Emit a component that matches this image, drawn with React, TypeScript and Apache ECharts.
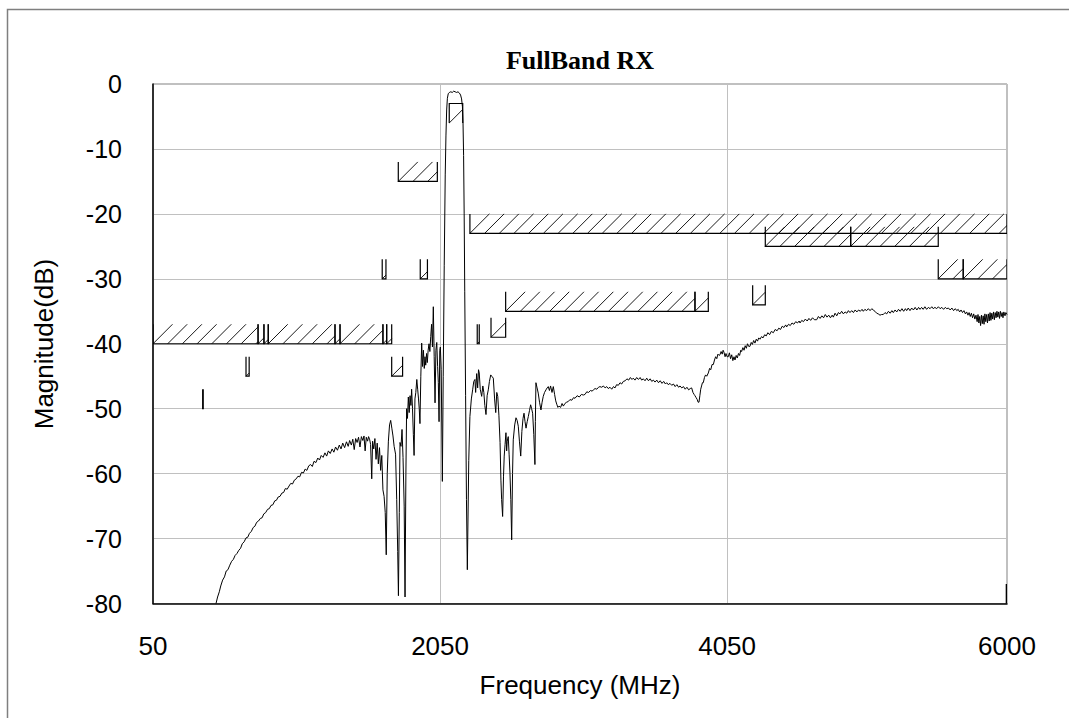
import React, { useEffect, useRef } from "react";
import * as echarts from "echarts";

const chartTitle = "FullBand RX";
const xAxisName = "Frequency (MHz)";
const yAxisName = "Magnitude(dB)";
const freqMin = 50;
const freqMax = 6000;
const xTickStep = 2000;
const yMin = -80;
const yMax = 0;
const yTickStep = 10;

// measured response [MHz, dB]
const lowBandResponse: [number, number][] = [
  [489, -80.0], [500, -79.0], [512, -78.2], [522, -77.3], [535, -76.4], [548, -75.9], [560, -75.0], [572, -74.8],
  [585, -74.1], [598, -73.5], [610, -73.2], [622, -72.6], [635, -72.3], [648, -71.8], [660, -71.5], [672, -70.8],
  [685, -70.5], [698, -69.9], [710, -69.8], [722, -69.2], [735, -68.9], [748, -68.3], [760, -68.1], [772, -67.5],
  [785, -67.3], [798, -66.9], [810, -66.8], [822, -66.2], [835, -66.0], [848, -65.5], [860, -65.4], [872, -64.9],
  [885, -64.8], [898, -64.2], [910, -64.1], [922, -63.6], [935, -63.5], [948, -63.0], [960, -62.9], [972, -62.3],
  [985, -62.4], [998, -61.9], [1010, -61.5], [1022, -61.6], [1035, -61.0], [1048, -60.8], [1060, -60.4], [1072, -60.5],
  [1085, -59.8], [1098, -59.9], [1110, -59.3], [1122, -59.5], [1135, -58.8], [1148, -58.6], [1160, -58.9], [1172, -58.1],
  [1185, -58.3], [1198, -57.6], [1210, -57.9], [1222, -57.2], [1235, -57.5], [1248, -56.8], [1260, -57.3], [1272, -56.5],
  [1285, -56.9], [1298, -56.2], [1310, -56.7], [1322, -55.9], [1335, -56.4], [1348, -55.6], [1360, -56.2], [1372, -55.3],
  [1385, -56.0], [1398, -55.1], [1410, -55.8], [1420, -54.9], [1432, -55.6], [1442, -54.7], [1452, -56.3], [1462, -54.6],
  [1472, -55.2], [1482, -54.4], [1492, -55.9], [1502, -54.3], [1512, -54.9], [1520, -54.2], [1528, -56.5], [1536, -54.4],
  [1545, -55.0], [1552, -54.3], [1560, -54.8], [1566, -55.5], [1574, -60.8], [1580, -55.0], [1588, -56.2], [1596, -54.6],
  [1604, -57.8], [1612, -55.3], [1620, -58.5], [1628, -56.0], [1636, -59.5], [1644, -57.2], [1652, -62.5], [1660, -63.5],
  [1668, -66.0], [1675, -72.5], [1682, -60.0], [1690, -55.0], [1698, -52.5], [1706, -51.8], [1714, -53.0], [1722, -54.2],
  [1730, -55.8], [1740, -57.0], [1748, -64.0], [1755, -72.0], [1760, -78.8], [1766, -66.0], [1771, -55.2], [1778, -55.8],
  [1785, -53.2], [1792, -57.5], [1800, -65.0], [1806, -79.0], [1812, -60.0], [1817, -50.0], [1823, -51.5], [1829, -48.2],
  [1835, -50.6], [1841, -48.0], [1847, -49.5], [1852, -47.0], [1858, -50.0], [1864, -54.0], [1869, -57.2], [1875, -48.5],
  [1881, -47.5], [1888, -45.5], [1894, -47.0], [1900, -48.5], [1905, -50.0], [1910, -52.3], [1916, -45.0], [1922, -39.9],
  [1928, -43.5], [1934, -41.0], [1940, -43.8], [1945, -42.0], [1950, -43.3], [1956, -41.5], [1961, -42.9], [1967, -41.0],
  [1973, -40.0], [1979, -41.2], [1985, -38.9], [1991, -37.0], [1997, -40.5], [2003, -34.3], [2009, -42.0], [2015, -49.1],
  [2021, -41.0], [2027, -39.8], [2033, -43.5], [2038, -46.0], [2043, -52.0], [2048, -41.0], [2052, -40.5], [2058, -44.0],
  [2066, -61.2],
];

const passbandResponse: [number, number][] = [
  [2072, -45.0], [2079, -28.0], [2086, -14.0], [2091, -8.0], [2096, -4.0], [2101, -2.2], [2107, -1.5], [2115, -1.3],
  [2125, -1.2], [2135, -1.3], [2145, -1.1], [2155, -1.2], [2165, -1.3], [2175, -1.2], [2185, -1.4], [2193, -1.7],
  [2200, -2.3], [2206, -3.5], [2210, -6.0], [2214, -11.0], [2218, -20.0], [2222, -32.0], [2228, -48.0], [2234, -64.0],
  [2240, -74.8],
];

const highBandResponse: [number, number][] = [
  [2250, -58.0], [2258, -51.2], [2268, -48.5], [2277, -47.1], [2285, -45.8], [2293, -45.5], [2298, -47.5], [2305, -44.6],
  [2312, -46.8], [2318, -44.0], [2323, -44.5], [2330, -47.0], [2340, -48.1], [2348, -46.5], [2355, -47.5], [2362, -49.5],
  [2370, -50.9], [2378, -48.0], [2386, -47.1], [2394, -45.8], [2403, -44.8], [2410, -45.0], [2421, -45.3], [2430, -48.5],
  [2438, -50.6], [2445, -47.5], [2452, -48.1], [2460, -51.0], [2468, -55.2], [2474, -61.0], [2479, -64.0], [2486, -66.6],
  [2492, -60.5], [2497, -57.3], [2503, -55.5], [2509, -53.7], [2514, -56.5], [2518, -55.0], [2525, -54.3], [2531, -57.0],
  [2537, -59.9], [2543, -64.0], [2549, -70.2], [2555, -60.0], [2560, -54.8], [2570, -52.5], [2579, -51.4], [2587, -51.8],
  [2595, -52.7], [2603, -55.0], [2612, -57.3], [2620, -53.5], [2628, -51.5], [2635, -50.7], [2642, -52.0], [2649, -53.0],
  [2657, -52.0], [2665, -51.2], [2673, -50.3], [2681, -49.4], [2688, -50.0], [2695, -50.7], [2703, -54.0], [2711, -58.6],
  [2714, -52.0], [2718, -46.0], [2726, -46.8], [2734, -47.6], [2743, -49.0], [2753, -50.2], [2761, -49.0], [2769, -48.1],
  [2778, -47.5], [2788, -47.1], [2796, -46.8], [2804, -46.6], [2812, -47.2], [2820, -46.5], [2830, -47.5], [2839, -46.6],
  [2848, -47.8], [2856, -48.8], [2863, -49.3], [2871, -49.8], [2879, -49.6], [2890, -49.8], [2900, -49.2], [2909, -49.6],
  [2920, -49.2], [2932, -49.0], [2943, -48.9], [2955, -48.6], [2968, -48.7], [2980, -48.3], [2990, -48.4], [3005, -48.0],
  [3020, -48.2], [3035, -47.8], [3048, -47.9], [3060, -47.8], [3072, -47.4], [3085, -47.5], [3098, -47.2], [3110, -47.3],
  [3118, -47.1], [3130, -46.9], [3142, -47.0], [3154, -46.7], [3164, -46.6], [3176, -46.7], [3188, -46.5], [3200, -46.8],
  [3211, -46.6], [3222, -46.9], [3234, -46.7], [3246, -47.0], [3258, -46.6], [3269, -46.8], [3280, -46.3], [3292, -46.4],
  [3304, -46.0], [3315, -46.2], [3327, -45.8], [3340, -45.7], [3352, -45.4], [3364, -45.6], [3376, -45.2], [3387, -45.5],
  [3396, -45.3], [3408, -45.6], [3420, -45.2], [3432, -45.5], [3444, -45.2], [3455, -45.6], [3466, -45.4], [3478, -45.7],
  [3490, -45.3], [3502, -45.7], [3514, -45.4], [3525, -45.8], [3536, -45.6], [3548, -45.9], [3560, -45.6], [3572, -46.0],
  [3584, -45.7], [3596, -46.1], [3608, -45.8], [3620, -46.2], [3629, -46.0], [3640, -46.3], [3652, -46.1], [3664, -46.4],
  [3676, -46.2], [3688, -46.6], [3700, -46.3], [3712, -46.7], [3722, -46.5], [3734, -46.8], [3746, -46.6], [3758, -47.0],
  [3770, -46.7], [3782, -47.1], [3793, -46.9], [3803, -46.8], [3812, -47.5], [3820, -47.8], [3826, -48.0], [3834, -48.3],
  [3842, -48.6], [3848, -49.0], [3854, -49.0], [3860, -48.0], [3866, -47.0], [3872, -46.5], [3878, -46.0], [3884, -46.0],
  [3892, -45.2], [3900, -44.8], [3908, -45.0], [3919, -44.5], [3928, -43.8], [3936, -44.0], [3945, -43.2], [3954, -43.2],
  [3962, -42.5], [3970, -42.0], [3978, -42.3], [3986, -41.6], [3994, -41.8], [4000, -41.7], [4008, -41.2], [4016, -41.6],
  [4022, -41.0], [4028, -41.3], [4036, -42.0], [4042, -41.5], [4050, -42.0], [4058, -42.0], [4066, -41.4], [4074, -42.3],
  [4082, -41.7], [4090, -42.6], [4098, -42.0], [4105, -42.5], [4113, -41.8], [4121, -42.2], [4129, -41.5], [4137, -41.8],
  [4145, -41.0], [4151, -41.2], [4160, -40.6], [4168, -41.0], [4176, -40.3], [4184, -40.7], [4192, -40.0], [4200, -40.4],
  [4209, -40.4], [4218, -39.8], [4226, -40.1], [4235, -39.5], [4244, -39.9], [4253, -39.3], [4262, -39.6], [4270, -39.1],
  [4279, -39.3], [4290, -38.9], [4300, -39.1], [4312, -38.6], [4322, -38.8], [4334, -38.3], [4346, -38.6], [4358, -38.1],
  [4372, -38.3], [4385, -37.8], [4398, -38.0], [4410, -37.6], [4422, -37.8], [4434, -37.3], [4446, -37.5], [4458, -37.1],
  [4465, -37.4], [4478, -37.0], [4490, -37.2], [4502, -36.8], [4515, -37.0], [4528, -36.6], [4540, -36.8], [4552, -36.5],
  [4558, -36.8], [4570, -36.4], [4582, -36.6], [4595, -36.2], [4608, -36.5], [4620, -36.1], [4632, -36.4], [4645, -36.0],
  [4658, -36.3], [4674, -36.3], [4686, -35.8], [4698, -36.1], [4710, -35.7], [4722, -36.0], [4734, -35.5], [4746, -35.9],
  [4758, -35.6], [4770, -36.0], [4782, -35.6], [4790, -35.9], [4802, -35.3], [4814, -35.7], [4825, -35.2], [4836, -35.4],
  [4848, -35.0], [4860, -35.4], [4872, -35.1], [4884, -35.3], [4895, -34.9], [4906, -35.2], [4918, -34.9], [4930, -35.2],
  [4942, -34.8], [4954, -35.1], [4966, -34.8], [4978, -35.0], [4990, -34.7], [4999, -35.0], [5010, -34.7], [5022, -34.9],
  [5034, -34.6], [5046, -34.9], [5058, -34.6], [5068, -34.8], [5080, -35.0], [5092, -35.3], [5103, -35.4], [5115, -35.6],
  [5126, -35.5], [5138, -35.5], [5150, -35.2], [5162, -35.4], [5174, -35.0], [5186, -35.3], [5198, -34.9], [5208, -35.2],
  [5220, -34.8], [5232, -35.1], [5244, -34.7], [5256, -35.0], [5268, -34.6], [5280, -35.0], [5292, -34.6], [5301, -34.9],
  [5312, -34.5], [5324, -34.9], [5336, -34.5], [5348, -34.8], [5360, -34.4], [5372, -34.8], [5384, -34.4], [5394, -34.7],
  [5405, -34.4], [5416, -34.7], [5428, -34.3], [5440, -34.7], [5452, -34.4], [5464, -34.6], [5476, -34.3], [5486, -34.6],
  [5498, -34.4], [5510, -34.6], [5522, -34.3], [5534, -34.6], [5546, -34.4], [5558, -34.7], [5570, -34.4], [5580, -34.6],
  [5592, -34.5], [5604, -34.8], [5616, -34.5], [5628, -34.9], [5640, -34.6], [5650, -34.9], [5660, -34.7], [5670, -35.1],
  [5680, -34.8], [5690, -35.2], [5700, -34.9], [5710, -35.4], [5719, -35.1], [5728, -35.6], [5736, -35.2], [5744, -35.8],
  [5752, -35.3], [5760, -36.0], [5768, -35.4], [5776, -36.2], [5784, -35.6], [5792, -36.6], [5798, -35.5], [5804, -36.8],
  [5810, -35.8], [5816, -37.2], [5822, -35.6], [5828, -36.9], [5834, -35.7], [5840, -37.0], [5846, -35.4], [5852, -36.6],
  [5858, -35.5], [5864, -36.8], [5870, -35.4], [5876, -36.5], [5882, -35.2], [5888, -36.4], [5894, -35.3], [5900, -36.2],
  [5906, -35.1], [5912, -36.3], [5918, -35.2], [5924, -36.0], [5930, -35.0], [5936, -35.9], [5942, -35.1], [5948, -36.1],
  [5954, -35.0], [5960, -35.8], [5966, -35.2], [5972, -36.0], [5978, -35.1], [5986, -35.7], [5992, -35.2], [6000, -35.5],
];

// spec masks: [startMHz, stopMHz, limitDb, side]  side 1 = upper limit (hatched above), -1 = lower limit (hatched below)
const maskSegments: [number, number, number, number][] = [
  [396, 400, -50, 1],
  [698, 720, -45, 1],
  [50, 782, -40, 1],
  [782, 823, -40, 1],
  [823, 853, -40, 1],
  [853, 1318, -40, 1],
  [1318, 1353, -40, 1],
  [1353, 1652, -40, 1],
  [1652, 1678, -40, 1],
  [1678, 1713, -40, 1],
  [1713, 1789, -45, 1],
  [1647, 1673, -30, 1],
  [1912, 1962, -30, 1],
  [1759, 2031, -15, 1],
  [2114, 2208, -3, -1],
  [2258, 6000, -23, 1],
  [2309, 2323, -40, 1],
  [2405, 2507, -39, 1],
  [2507, 3826, -35, 1],
  [3826, 3919, -35, 1],
  [4228, 4316, -34, 1],
  [4316, 4911, -25, 1],
  [4911, 5521, -25, 1],
  [5521, 5695, -30, 1],
  [5695, 6000, -30, 1],
  [5995, 6000, -80, 1],
];
const maskHatchDb = 3;

const toAxis = (f: number) => f - freqMin;

export default function App() {
  const ref = useRef<HTMLDivElement>(null);
  useEffect(() => {
    if (!ref.current) return;
    const chart = echarts.init(ref.current, null, { renderer: "svg" });
    const curve = [...lowBandResponse, ...passbandResponse, ...highBandResponse].map(
      ([f, v]) => [toAxis(f), v]
    );
    const masks = maskSegments.map(([a, b, l, s]) => [toAxis(a), toAxis(b), l, s]);
    const hatchGap = 14.7;
    const option: any = {
      animation: false,
      backgroundColor: "#ffffff",
      grid: {
        left: 153,
        right: 62,
        top: 84,
        bottom: 114.5,
        show: true,
        borderColor: "#808080",
        borderWidth: 1,
        backgroundColor: "transparent",
      },
      xAxis: {
        type: "value",
        min: 0,
        max: freqMax - freqMin,
        interval: xTickStep,
        axisLine: { show: true, onZero: false, lineStyle: { color: "#000", width: 1.5 } },
        axisTick: { show: false },
        splitLine: { show: true, lineStyle: { color: "#c0c0c0", width: 1 } },
        axisLabel: {
          formatter: (v: number) => String(Math.round(v + freqMin)),
          fontFamily: "Liberation Sans, Arial, sans-serif",
          fontSize: 26,
          color: "#000",
          margin: 29,
        },
      },
      yAxis: {
        type: "value",
        min: yMin,
        max: yMax,
        interval: yTickStep,
        axisLine: { show: true, onZero: false, lineStyle: { color: "#000", width: 1.5 } },
        axisTick: { show: false },
        splitLine: { show: true, lineStyle: { color: "#c0c0c0", width: 1 } },
        axisLabel: {
          fontFamily: "Liberation Sans, Arial, sans-serif",
          fontSize: 25,
          color: "#000",
          margin: 31,
        },
      },
      graphic: [
        {
          type: "rect",
          shape: { x: 7.5, y: 9.5, width: 1100, height: 760 },
          style: { fill: "none", stroke: "#7f7f7f", lineWidth: 1.5 },
          silent: true,
          z: -1,
        },
        {
          type: "text",
          x: 580,
          y: 60,
          style: {
            text: chartTitle,
            font: "bold 26px 'Liberation Serif', 'Times New Roman', serif",
            fill: "#000",
            textAlign: "center",
            textVerticalAlign: "middle",
          },
        },
        {
          type: "text",
          x: 580,
          y: 685,
          style: {
            text: xAxisName,
            font: "26px 'Liberation Sans', Arial, sans-serif",
            fill: "#000",
            textAlign: "center",
            textVerticalAlign: "middle",
          },
        },
        {
          type: "text",
          x: 44,
          y: 344,
          rotation: Math.PI / 2,
          style: {
            text: yAxisName,
            font: "26px 'Liberation Sans', Arial, sans-serif",
            fill: "#000",
            textAlign: "center",
            textVerticalAlign: "middle",
          },
        },
      ],
      series: [
        {
          type: "custom",
          name: "mask",
          clip: true,
          encode: { x: [0, 1], y: 2 },
          data: masks,
          z: 3,
          renderItem: (params: any, api: any) => {
            const a = api.value(0);
            const b = api.value(1);
            const lim = api.value(2);
            const side = api.value(3);
            const p1 = api.coord([a, lim]);
            const p2 = api.coord([b, lim]);
            const h = Math.abs(api.size([0, maskHatchDb])[1]);
            const xl = p1[0];
            const xr = p2[0];
            const yLim = p1[1];
            const yb = side > 0 ? yLim : yLim + h;
            const yt = side > 0 ? yLim - h : yLim;
            const outline =
              side > 0
                ? [[xl, yt], [xl, yb], [xr, yb], [xr, yt]]
                : [[xl, yb], [xl, yt], [xr, yt], [xr, yb]];
            const children: any[] = [
              {
                type: "polyline",
                shape: { points: outline },
                style: { stroke: "#000", lineWidth: 1.2, fill: "none" },
              },
            ];
            for (let x0 = xl; x0 < xr - 0.5; x0 += hatchGap) {
              let x1 = x0 + h;
              let y1 = yt;
              if (x1 > xr) {
                x1 = xr;
                y1 = yb - (xr - x0);
              }
              children.push({
                type: "line",
                shape: { x1: x0, y1: yb, x2: x1, y2: y1 },
                style: { stroke: "#000", lineWidth: 0.9 },
              });
            }
            return { type: "group", children };
          },
        },
        {
          type: "line",
          name: "response",
          data: curve,
          showSymbol: false,
          symbol: "none",
          z: 4,
          lineStyle: { color: "#000", width: 1 },
          clip: true,
        },
      ],
    };
    chart.setOption(option);
    return () => chart.dispose();
  }, []);
  return (
    <div
      ref={ref}
      style={{ position: "fixed", left: 0, top: 0, width: 1069, height: 718, background: "#fff" }}
    />
  );
}
